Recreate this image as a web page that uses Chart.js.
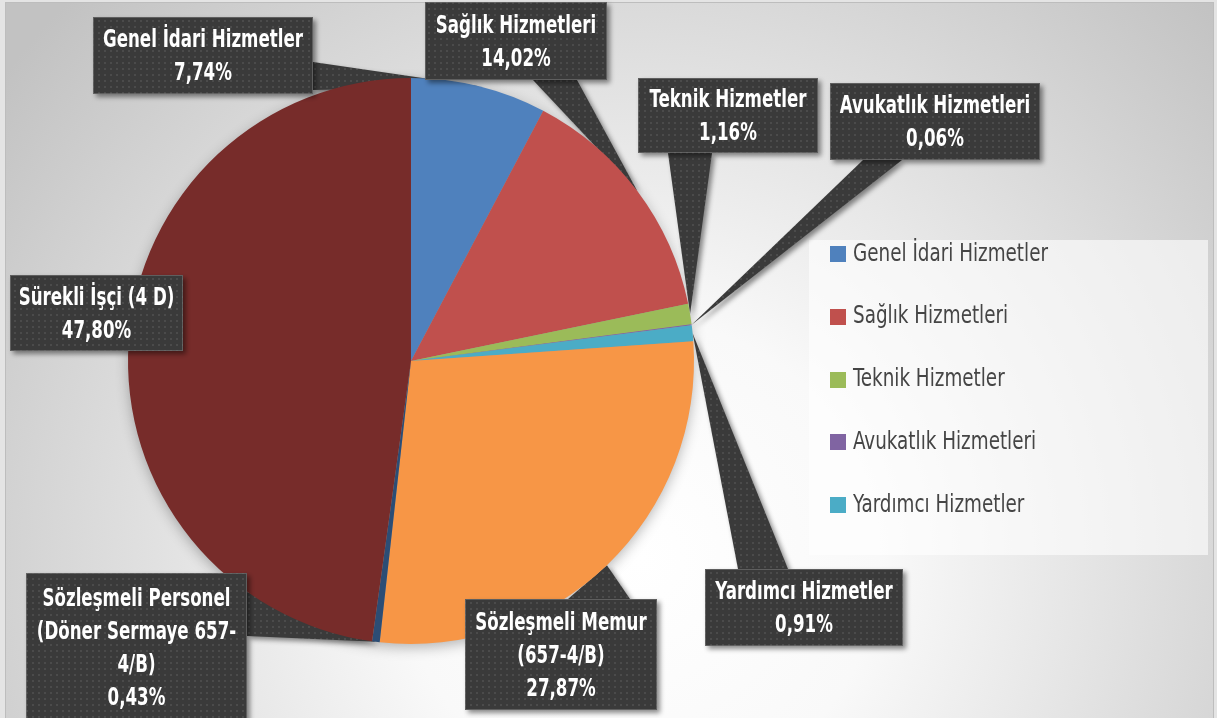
<!DOCTYPE html>
<html><head><meta charset="utf-8">
<script src="https://cdn.jsdelivr.net/npm/chart.js@4.4.0/dist/chart.umd.min.js"></script>
<style>html,body{margin:0;padding:0;background:#e2e2e2;overflow:hidden}#wrap{position:relative;width:1217px;height:718px}</style>
</head><body><div id="wrap"><canvas id="c" width="1217" height="718"></canvas></div>
<script>
// ---- data ----
const categories = ['Genel İdari Hizmetler','Sağlık Hizmetleri','Teknik Hizmetler','Avukatlık Hizmetleri','Yardımcı Hizmetler','Sözleşmeli Memur (657-4/B)','Sözleşmeli Personel (Döner Sermaye 657-4/B)','Sürekli İşçi (4 D)'];
const percentages = [7.74, 14.02, 1.16, 0.06, 0.91, 27.87, 0.43, 47.80];
const valueLabels = ['7,74%','14,02%','1,16%','0,06%','0,91%','27,87%','0,43%','47,80%'];
const labelLines = [['Genel İdari Hizmetler'],['Sağlık Hizmetleri'],['Teknik Hizmetler'],['Avukatlık Hizmetleri'],['Yardımcı Hizmetler'],['Sözleşmeli Memur','(657-4/B)'],['Sözleşmeli Personel','(Döner Sermaye 657-','4/B)'],['Sürekli İşçi (4 D)']];
const legendCount = 5;
const colors = ['#4f81bd','#c0504d','#9bbb59','#8064a2','#4bacc6','#f79646','#2c4d75','#772c2a'];

// ---- callout layout (box rect + pointer base on box edge) ----
const callouts = [
  {box:[93,17,313,94],  base:[[313,62],[313,90]]},
  {box:[425,2,607,80],  base:[[533,80],[577,80]]},
  {box:[638,78,818,153], base:[[668,153],[712,153]]},
  {box:[830,83,1040,160], base:[[863,160],[902,160]]},
  {box:[705,569,903,646], base:[[738,569],[788,569]]},
  {box:[465,599,657,710], base:[[568,599],[630,599]]},
  {box:[26,573,247,728], base:[[247,592],[247,636]]},
  {box:[10,275,183,351], base:null}
];
const FONT = '"Liberation Sans Narrow","DejaVu Sans Condensed","Roboto Condensed",sans-serif';

function makePattern(ctx){
  const p = document.createElement('canvas'); p.width = 6; p.height = 6;
  const g = p.getContext('2d');
  g.fillStyle = '#3a3a3a'; g.fillRect(0,0,6,6);
  g.fillStyle = '#4b4b4b'; g.fillRect(2,2,2,2);
  return ctx.createPattern(p,'repeat');
}
function scaledText(ctx, text, x, y, sx){
  ctx.save(); ctx.translate(x,y); ctx.scale(sx,1); ctx.fillText(text,0,0); ctx.restore();
}

const bgPlugin = {
  id:'bg',
  beforeDraw(chart){
    const ctx = chart.ctx;
    ctx.save();
    ctx.fillStyle = '#e4e4e4'; ctx.fillRect(0,0,1217,718);
    const g = ctx.createRadialGradient(640,560,0,640,560,800);
    g.addColorStop(0,'#ffffff'); g.addColorStop(0.3,'#f9f9f9'); g.addColorStop(1,'#c2c2c2');
    ctx.fillStyle = g; ctx.fillRect(6,3,1207,715);
    ctx.strokeStyle = '#bdbdbd'; ctx.lineWidth = 1; ctx.strokeRect(5.5,2.5,1208,720);
    // legend panel
    ctx.fillStyle = 'rgba(255,255,255,0.6)'; ctx.fillRect(809,240,399,315);
    ctx.restore();
  }
};

function tipOf(chart,i){
  const a = chart.getDatasetMeta(0).data[i];
  const mid = (a.startAngle + a.endAngle)/2;
  return [a.x + a.outerRadius*Math.cos(mid), a.y + a.outerRadius*Math.sin(mid)];
}

const calloutPlugin = {
  id:'callouts',
  beforeDatasetsDraw(chart){
    const ctx = chart.ctx;
    const pat = makePattern(ctx);
    const a0 = chart.getDatasetMeta(0).data[0];
    ctx.save();
    ctx.shadowColor = 'rgba(0,0,0,0.3)'; ctx.shadowBlur = 14; ctx.shadowOffsetY = 4;
    ctx.fillStyle = '#999'; ctx.beginPath(); ctx.arc(a0.x,a0.y,a0.outerRadius-1,0,Math.PI*2); ctx.fill();
    ctx.shadowColor = 'rgba(0,0,0,0.45)'; ctx.shadowBlur = 5; ctx.shadowOffsetX = 3; ctx.shadowOffsetY = 3;
    ctx.fillStyle = pat;
    callouts.forEach((c,i)=>{
      if(!c.base) return;
      const t = tipOf(chart,i);
      ctx.beginPath(); ctx.moveTo(c.base[0][0],c.base[0][1]); ctx.lineTo(t[0],t[1]); ctx.lineTo(c.base[1][0],c.base[1][1]); ctx.closePath(); ctx.fill();
    });
    ctx.restore();
  },
  afterDatasetsDraw(chart){
    const ctx = chart.ctx;
    const pat = makePattern(ctx);
    ctx.save();
    callouts.forEach(c=>{
      const [x1,y1,x2,y2] = c.box;
      ctx.save();
      ctx.shadowColor = 'rgba(0,0,0,0.45)'; ctx.shadowBlur = 5; ctx.shadowOffsetX = 3; ctx.shadowOffsetY = 3;
      ctx.fillStyle = pat; ctx.fillRect(x1,y1,x2-x1,y2-y1);
      ctx.restore();
      ctx.strokeStyle = 'rgba(120,120,120,0.6)'; ctx.lineWidth = 1; ctx.strokeRect(x1+0.5,y1+0.5,x2-x1-1,y2-y1-1);
    });
    ctx.font = 'bold 24px ' + FONT;
    const sxB = 200 / ctx.measureText('Genel İdari Hizmetler').width;
    ctx.fillStyle = '#ffffff'; ctx.textAlign = 'center'; ctx.textBaseline = 'middle';
    callouts.forEach((c,i)=>{
      const lines = labelLines[i].concat([valueLabels[i]]);
      const [x1,y1,x2,y2] = c.box;
      const cx = (x1+x2)/2, cy = (y1+Math.min(y2,722))/2 + 2;
      const lh = 33;
      lines.forEach((s,k)=>{ scaledText(ctx, s, cx, cy + (k-(lines.length-1)/2)*lh, sxB); });
    });
    ctx.font = '25px ' + FONT;
    const sxR = 195 / ctx.measureText('Genel İdari Hizmetler').width;
    ctx.textAlign = 'left'; ctx.textBaseline = 'middle';
    for(let i=0;i<legendCount;i++){
      const y = 254 + i*62.8;
      ctx.fillStyle = colors[i]; ctx.fillRect(830, Math.round(y-8), 16, 16);
      ctx.fillStyle = '#454545';
      scaledText(ctx, categories[i], 853, y, sxR);
    }
    ctx.restore();
  }
};

new Chart(document.getElementById('c'), {
  type:'pie',
  data:{ labels:categories, datasets:[{ data:percentages, backgroundColor:colors, borderWidth:0 }] },
  options:{
    responsive:false, animation:false,
    layout:{ padding:{ left:128, right:523, top:78, bottom:74 } },
    plugins:{ legend:{display:false}, tooltip:{enabled:false} }
  },
  plugins:[bgPlugin, calloutPlugin]
});
</script></body></html>
